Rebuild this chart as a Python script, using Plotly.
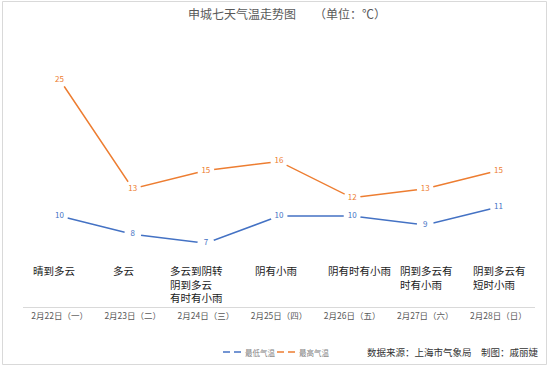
import plotly.graph_objects as go

# ---- data ----
dates = ["2月22日（一）", "2月23日（二）", "2月24日（三）", "2月25日（四）",
         "2月26日（五）", "2月27日（六）", "2月28日（日）"]
weather = ["晴到多云", "多云", "多云到阴转<br>阴到多云<br>有时有小雨", "阴有小雨",
           "阴有时有小雨", "阴到多云有<br>时有小雨", "阴到多云有<br>短时小雨"]
low_temp = [10, 8, 7, 10, 10, 9, 11]
high_temp = [25, 13, 15, 16, 12, 13, 15]
series_names = ["最低气温", "最高气温"]

# ---- style ----
FONT = "Noto Sans CJK SC"
BLUE = "#4472C4"
ORANGE = "#ED7D31"
weather_xshift = [-29, -22, -38, -26, -26, -27, -27]

L, R, T, B = 23, 15, 34, 61
W, H = 550, 368
pw, ph = W - L - R, H - T - B

def px_x(p):
    return (p - L) / pw

def px_y(p):
    return (H - B - p) / ph

fig = go.Figure()
for name, vals, col in [(series_names[0], low_temp, BLUE), (series_names[1], high_temp, ORANGE)]:
    fig.add_trace(go.Scatter(
        x=dates, y=vals, name=name, mode="lines+markers+text",
        line=dict(color=col, width=1.5),
        marker=dict(color="white", size=17, line=dict(width=0)),
        text=[str(v) for v in vals], textposition="middle center",
        textfont=dict(family=FONT, size=8, color=col),
        cliponaxis=False, showlegend=False, hoverinfo="skip",
    ))

annotations = []
shapes = []
for i, (d, w) in enumerate(zip(dates, weather)):
    annotations.append(dict(
        x=d, y=px_y(261), xref="x", yref="paper", text=w, showarrow=False,
        xanchor="left", yanchor="top", align="left", xshift=weather_xshift[i],
        font=dict(family=FONT, size=10.5, color="#1a1a1a"),
    ))

# manual legend (dashed-gap line symbols like the reference)
legend_x = [223, 277]
for name, col, lx in zip(series_names, [BLUE, ORANGE], legend_x):
    for a, b in [(lx, lx + 7), (lx + 11, lx + 18)]:
        shapes.append(dict(type="line", xref="paper", yref="paper",
                           x0=px_x(a), x1=px_x(b), y0=px_y(352), y1=px_y(352),
                           line=dict(color=col, width=1.5)))
    annotations.append(dict(
        x=px_x(lx + 20), y=px_y(352), xref="paper", yref="paper", text=name,
        showarrow=False, xanchor="left", yanchor="middle",
        font=dict(family=FONT, size=7.5, color="#7f7f7f"),
    ))

annotations.append(dict(
    x=px_x(541), y=px_y(352), xref="paper", yref="paper",
    text="数据来源：上海市气象局　制图：戚丽婕", showarrow=False,
    xanchor="right", yanchor="middle",
    font=dict(family=FONT, size=9.5, color="#333333"),
))

shapes.append(dict(type="rect", xref="paper", yref="paper",
                   x0=px_x(2.5), x1=px_x(546.5), y0=px_y(364.5), y1=px_y(1.5),
                   line=dict(color="#d9d9d9", width=1), layer="below"))

fig.update_layout(
    width=W, height=H,
    margin=dict(l=L, r=R, t=T, b=B),
    paper_bgcolor="white", plot_bgcolor="white",
    title=dict(text="申城七天气温走势图　　（单位：℃）", x=px_x(287), xanchor="center",
               xref="paper", y=1 - 15 / H, yanchor="middle",
               font=dict(family=FONT, size=12, color="#595959")),
    xaxis=dict(type="category", range=[-0.5, 6.5], showgrid=False, zeroline=False,
               showline=True, linecolor="#d9d9d9", linewidth=1, ticks="",
               tickfont=dict(family=FONT, size=8.5, color="#595959"), ticklabelstandoff=1),
    yaxis=dict(range=[0, 30], visible=False, showgrid=False),
    showlegend=False,
    hovermode=False,
    annotations=annotations,
    shapes=shapes,
)

fig.write_html("out.html", config={"displayModeBar": False},
               post_script="document.body.style.margin='0';document.body.style.overflow='hidden';")
